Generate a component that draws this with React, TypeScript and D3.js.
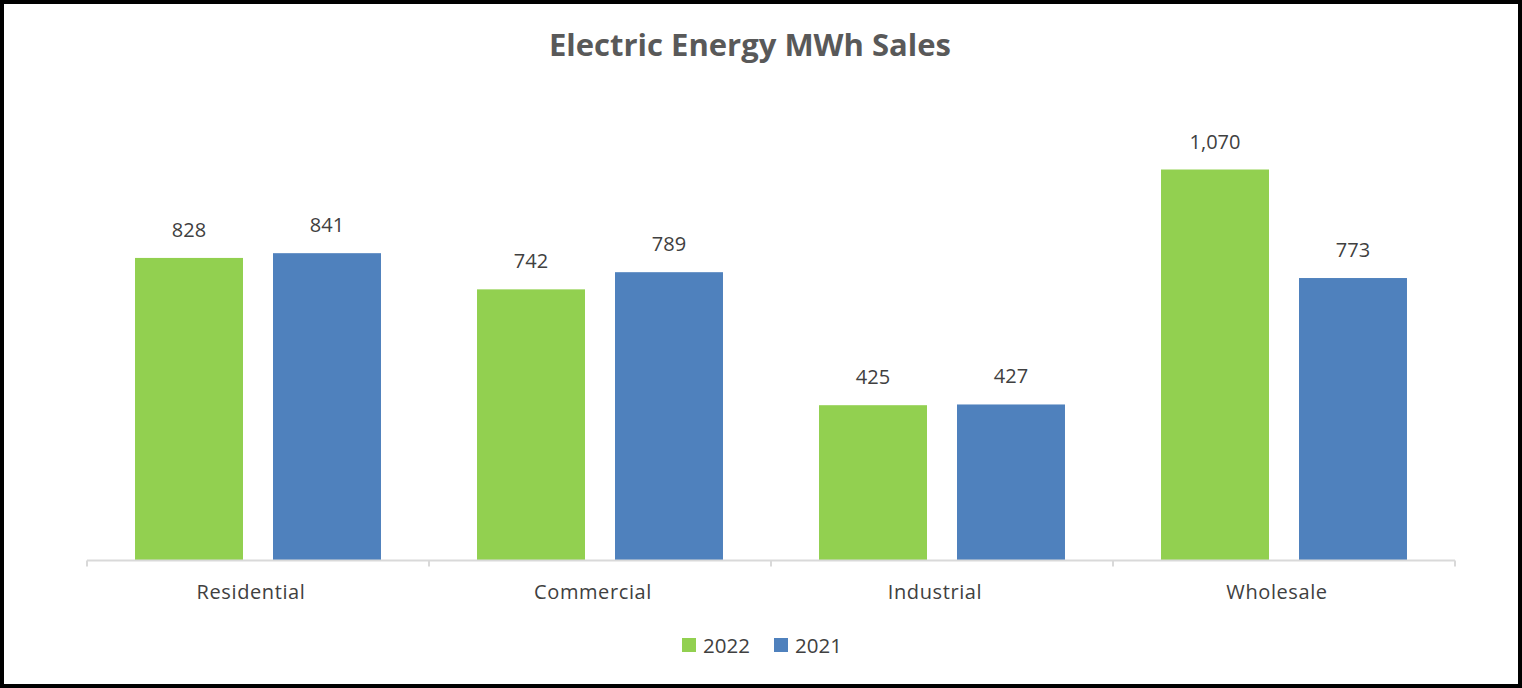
import React, { useEffect, useRef } from "react";
import * as d3 from "d3";

const categories = ["Residential", "Commercial", "Industrial", "Wholesale"];
const seriesNames = ["2022", "2021"];
const sales2022 = [828, 742, 425, 1070];
const sales2021 = [841, 789, 427, 773];
const seriesColors = ["#92d050", "#4f81bd"];

const W = 1522;
const H = 688;
const FONT = "'Open Sans', sans-serif";

export default function App() {
  const svgRef = useRef<SVGSVGElement | null>(null);

  useEffect(() => {
    if (!svgRef.current) return;
    const svg = d3.select(svgRef.current);
    svg.selectAll("*").remove();

    const left = 87;
    const right = 1455;
    const baseline = 560.5;

    // chart border
    svg
      .append("rect")
      .attr("x", 2)
      .attr("y", 2)
      .attr("width", W - 4)
      .attr("height", H - 4)
      .attr("fill", "#fff")
      .attr("stroke", "#000")
      .attr("stroke-width", 4);

    svg
      .append("text")
      .attr("x", 750)
      .attr("y", 56)
      .attr("text-anchor", "middle")
      .attr("font-family", FONT)
      .attr("font-weight", "bold")
      .attr("font-size", "31px")
      .attr("fill", "#595959")
      .text("Electric Energy MWh Sales");

    const x0 = d3.scaleBand().domain(categories).range([left, right]);
    const x1 = d3
      .scaleBand()
      .domain(seriesNames)
      .range([0, x0.bandwidth()])
      .paddingInner(0.2174)
      .paddingOuter(0.348);
    const y = d3.scaleLinear().domain([0, 1200]).range([baseline, 122]);

    const data = categories.map((c, i) => ({
      cat: c,
      values: [sales2022[i], sales2021[i]],
    }));

    const groups = svg
      .selectAll(".cat")
      .data(data)
      .enter()
      .append("g")
      .attr("class", "cat")
      .attr("transform", (d) => `translate(${x0(d.cat)},0)`);

    seriesNames.forEach((s, si) => {
      groups
        .append("rect")
        .attr("x", x1(s)!)
        .attr("y", (d) => y(d.values[si]))
        .attr("width", x1.bandwidth())
        .attr("height", (d) => baseline - y(d.values[si]))
        .attr("fill", seriesColors[si]);

      groups
        .append("text")
        .attr("x", x1(s)! + x1.bandwidth() / 2)
        .attr("y", (d) => y(d.values[si]) - 21)
        .attr("text-anchor", "middle")
        .attr("font-family", FONT)
        .attr("font-size", "20px")
        .attr("fill", "#404040")
        .text((d) => d3.format(",")(d.values[si]));
    });

    // category axis
    const axis = svg.append("g").attr("transform", `translate(0,${baseline})`);
    axis
      .append("line")
      .attr("x1", left)
      .attr("x2", right)
      .attr("stroke", "#d9d9d9")
      .attr("stroke-width", 2);
    const tickXs = [...categories.map((c) => x0(c)!), right];
    axis
      .selectAll(".tick")
      .data(tickXs)
      .enter()
      .append("line")
      .attr("x1", (d) => d)
      .attr("x2", (d) => d)
      .attr("y1", 0)
      .attr("y2", 6)
      .attr("stroke", "#d9d9d9")
      .attr("stroke-width", 2);
    axis
      .selectAll(".lbl")
      .data(categories)
      .enter()
      .append("text")
      .attr("x", (d) => x0(d)! + x0.bandwidth() / 2)
      .attr("dx", -7)
      .attr("y", 38)
      .attr("text-anchor", "middle")
      .attr("font-family", FONT)
      .attr("font-size", "20px")
      .attr("letter-spacing", "0.6px")
      .attr("fill", "#404040")
      .text((d) => d);

    // legend
    const legendX = [682, 774];
    const legend = svg
      .selectAll(".legend")
      .data(seriesNames)
      .enter()
      .append("g")
      .attr("transform", (_, i) => `translate(${legendX[i]},638)`);
    legend
      .append("rect")
      .attr("width", 14)
      .attr("height", 14)
      .attr("fill", (_, i) => seriesColors[i]);
    legend
      .append("text")
      .attr("x", 21)
      .attr("y", 15)
      .attr("font-family", FONT)
      .attr("font-size", "20.5px")
      .attr("fill", "#404040")
      .text((d) => d);
  }, []);

  return (
    <svg
      ref={svgRef}
      width={W}
      height={H}
      style={{ position: "absolute", left: 0, top: 0, display: "block" }}
    />
  );
}
